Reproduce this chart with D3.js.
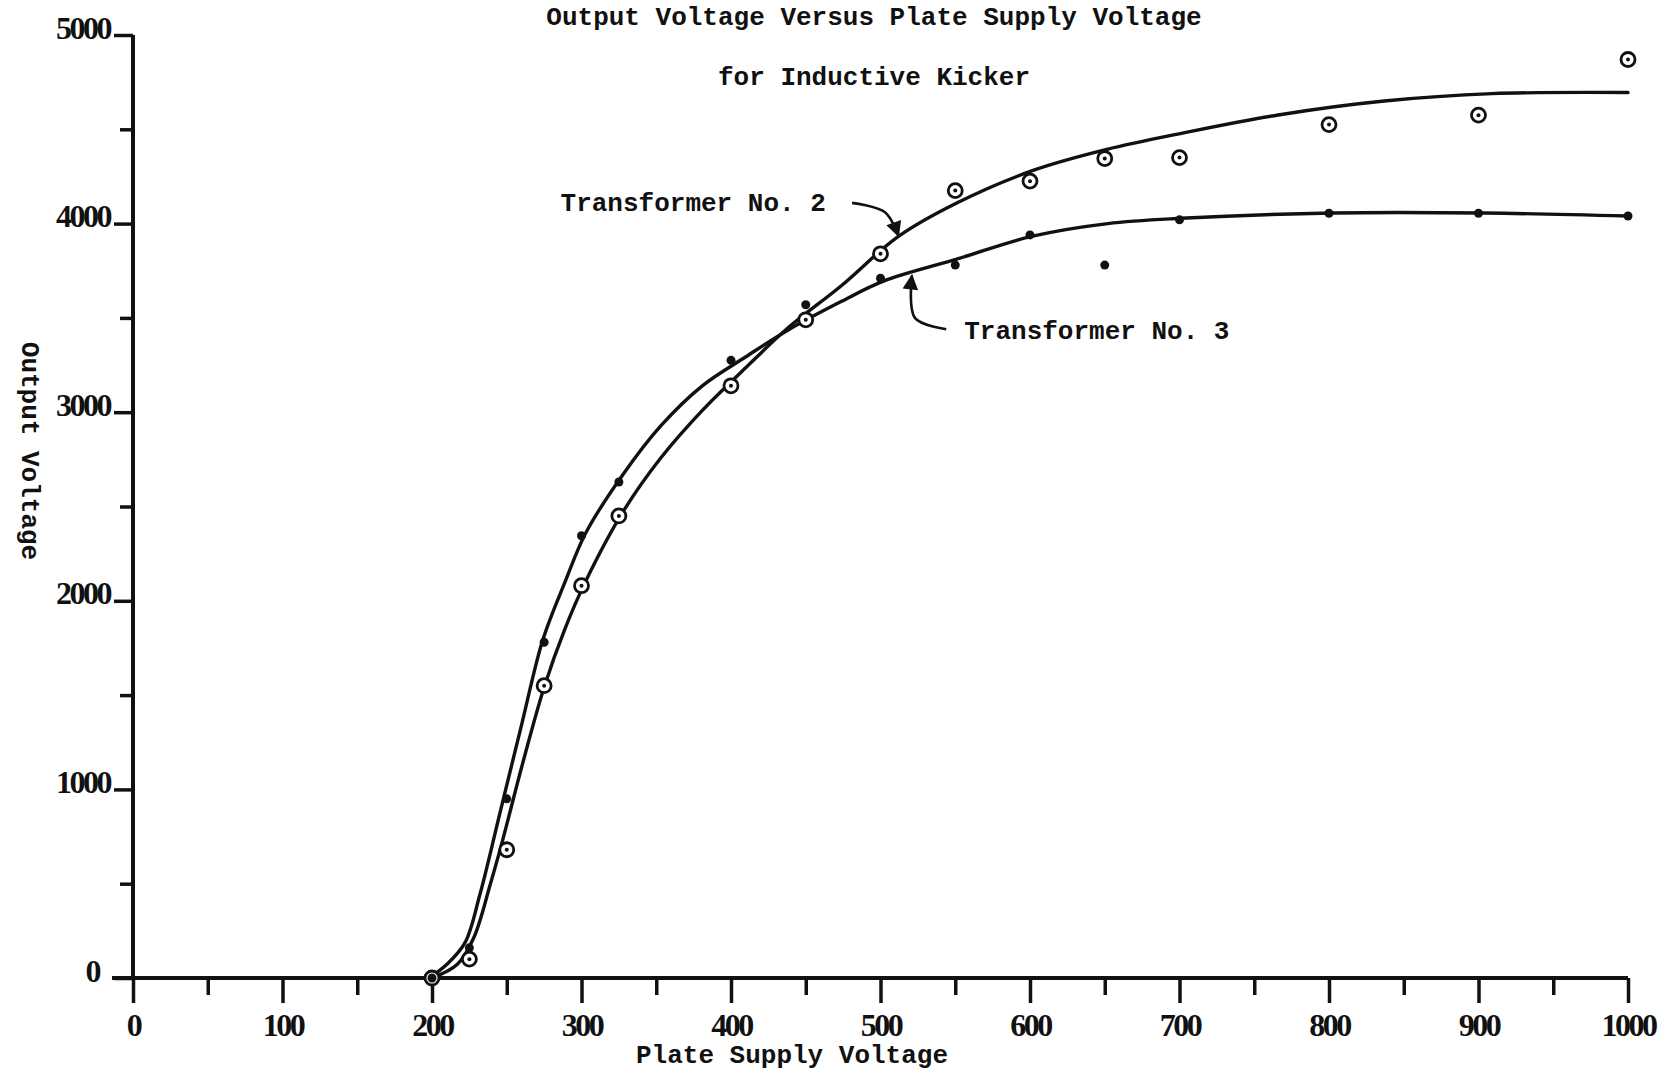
<!DOCTYPE html>
<html>
<head>
<meta charset="utf-8">
<script src="https://cdn.jsdelivr.net/npm/d3@7"></script>
<style>
body { margin: 0; background: #fff; }
.label { font-family: "Liberation Mono", "DejaVu Sans Mono", monospace; font-weight: bold; font-size: 26px; fill: #111; }
.tick text { font-family: "Liberation Serif", serif; font-weight: bold; font-size: 32px; letter-spacing: -2.5px; fill: #111; }
</style>
</head>
<body>
<svg id="chart" width="1671" height="1072"></svg>
<script>
// measured points - Transformer No. 2 (circles) and No. 3 (dots)
var plateVolts2 = [200, 225, 250, 275, 300, 325, 400, 450, 500, 550, 600, 650, 700, 800, 900, 1000];
var outputVolts2 = [0, 100, 680, 1550, 2080, 2450, 3140, 3490, 3840, 4175, 4225, 4345, 4350, 4525, 4575, 4870];
var plateVolts3 = [200, 225, 250, 275, 300, 325, 400, 450, 500, 550, 600, 650, 700, 800, 900, 1000];
var outputVolts3 = [0, 160, 950, 1780, 2345, 2630, 3275, 3570, 3710, 3780, 3940, 3780, 4020, 4055, 4055, 4040];

// the hand drawn smooth curves
var curveX2 = [200, 217, 228, 239, 247, 260, 275, 289, 303, 328, 353, 381, 410, 438, 474, 512, 552, 602, 652, 702, 766, 837, 909, 1000];
var curveY2 = [0, 73, 215, 497, 723, 1119, 1542, 1853, 2107, 2475, 2757, 3011, 3237, 3446, 3672, 3932, 4113, 4282, 4395, 4480, 4576, 4650, 4689, 4695];
var curveX3 = [198, 210, 222, 232, 246, 260, 274, 289, 303, 328, 353, 381, 410, 438, 474, 502, 552, 601, 652, 701, 802, 904, 1000];
var curveY3 = [0, 73, 186, 441, 893, 1345, 1790, 2100, 2362, 2672, 2927, 3141, 3294, 3435, 3588, 3695, 3814, 3932, 4000, 4028, 4056, 4056, 4040];

var xMajor = [0, 100, 200, 300, 400, 500, 600, 700, 800, 900, 1000];
var xMinor = [50, 150, 250, 350, 450, 550, 650, 750, 850, 950];
var yMajor = [0, 1000, 2000, 3000, 4000, 5000];
var yMinor = [500, 1500, 2500, 3500, 4500];

var svg = d3.select("#chart");
svg.append("rect").attr("width", 1671).attr("height", 1072).attr("fill", "#fff");

var x = d3.scaleLinear().domain([0, 1000]).range([133, 1628]);
var y = d3.scaleLinear().domain([0, 5000]).range([978, 35]);

var zip = function(xs, ys){
  return xs.map(function(d, i){ return [d, ys[i]]; });
};

// axes
var xAxis = svg.append("g").attr("transform", "translate(0," + y(0) + ")")
  .call(d3.axisBottom(x).tickValues(xMajor).tickFormat(d3.format("d"))
    .tickSize(25).tickPadding(10).tickSizeOuter(0));
svg.append("g").attr("transform", "translate(0," + y(0) + ")")
  .call(d3.axisBottom(x).tickValues(xMinor).tickSize(17).tickFormat("").tickSizeOuter(0));
var yAxis = svg.append("g").attr("transform", "translate(" + x(0) + ",0)")
  .call(d3.axisLeft(y).tickValues(yMajor).tickFormat(d3.format("d"))
    .tickSize(19).tickPadding(4).tickSizeOuter(0));
svg.append("g").attr("transform", "translate(" + x(0) + ",0)")
  .call(d3.axisLeft(y).tickValues(yMinor).tickSize(13).tickFormat("").tickSizeOuter(0));

svg.selectAll(".domain").remove();
svg.selectAll(".tick line").attr("stroke", "#111").attr("stroke-width", 3.5);
yAxis.selectAll(".tick text").attr("dy", 3);
yAxis.selectAll(".tick text").filter(function(d){ return d === 0; }).attr("x", -34);

svg.append("line")
  .attr("x1", x(0) - 21).attr("x2", x(1000))
  .attr("y1", y(0)).attr("y2", y(0))
  .attr("stroke", "#111").attr("stroke-width", 4);
svg.append("line")
  .attr("x1", x(0)).attr("x2", x(0))
  .attr("y1", y(0)).attr("y2", y(5000))
  .attr("stroke", "#111").attr("stroke-width", 4);

// curves
var line = d3.line()
  .x(function(d){ return x(d[0]); })
  .y(function(d){ return y(d[1]); })
  .curve(d3.curveCatmullRom.alpha(0.5));

svg.append("path").datum(zip(curveX2, curveY2))
  .attr("d", line).attr("fill", "none").attr("stroke", "#111")
  .attr("stroke-width", 3.4).attr("stroke-linecap", "round");
svg.append("path").datum(zip(curveX3, curveY3))
  .attr("d", line).attr("fill", "none").attr("stroke", "#111")
  .attr("stroke-width", 3.4).attr("stroke-linecap", "round");

// points
var pts2 = zip(plateVolts2, outputVolts2);
svg.selectAll("circle.t2")
  .data(pts2).enter().append("circle").attr("class", "t2")
  .attr("cx", function(d){ return x(d[0]); })
  .attr("cy", function(d){ return y(d[1]); })
  .attr("r", 7).attr("fill", "#fff").attr("stroke", "#111").attr("stroke-width", 2.8);
svg.selectAll("circle.t2c")
  .data(pts2).enter().append("circle").attr("class", "t2c")
  .attr("cx", function(d){ return x(d[0]); })
  .attr("cy", function(d){ return y(d[1]); })
  .attr("r", 2).attr("fill", "#111");

svg.selectAll("circle.t3")
  .data(zip(plateVolts3, outputVolts3)).enter().append("circle").attr("class", "t3")
  .attr("cx", function(d){ return x(d[0]); })
  .attr("cy", function(d){ return y(d[1]); })
  .attr("r", 4.5).attr("fill", "#111");

// arrow heads
svg.append("defs").append("marker")
  .attr("id", "head").attr("viewBox", "0 0 10 10")
  .attr("refX", 9).attr("refY", 5)
  .attr("markerWidth", 7).attr("markerHeight", 6)
  .attr("markerUnits", "strokeWidth")
  .attr("orient", "auto")
  .append("path").attr("d", "M0,0 L10,5 L0,10 z").attr("fill", "#111");

var arrow = d3.line()
  .x(function(d){ return x(d[0]); })
  .y(function(d){ return y(d[1]); })
  .curve(d3.curveCatmullRom.alpha(0.5));

svg.append("path").datum([[481, 4110], [503, 4060], [512, 3935]])
  .attr("d", arrow).attr("fill", "none").attr("stroke", "#111")
  .attr("stroke-width", 2.6).attr("marker-end", "url(#head)");
svg.append("path").datum([[544, 3440], [523, 3500], [521, 3725]])
  .attr("d", arrow).attr("fill", "none").attr("stroke", "#111")
  .attr("stroke-width", 2.6).attr("marker-end", "url(#head)");

// texts
svg.append("text").attr("class", "label")
  .attr("x", 874).attr("y", 25).attr("text-anchor", "middle")
  .text("Output Voltage Versus Plate Supply Voltage");
svg.append("text").attr("class", "label")
  .attr("x", 874).attr("y", 85).attr("text-anchor", "middle")
  .text("for Inductive Kicker");
svg.append("text").attr("class", "label")
  .attr("x", x(286)).attr("y", y(4065))
  .text("Transformer No. 2");
svg.append("text").attr("class", "label")
  .attr("x", x(556)).attr("y", y(3390))
  .text("Transformer No. 3");
svg.append("text").attr("class", "label")
  .attr("x", 792).attr("y", 1063).attr("text-anchor", "middle")
  .text("Plate Supply Voltage");
svg.append("text").attr("class", "label")
  .attr("transform", "translate(22,451) rotate(90)").attr("text-anchor", "middle")
  .text("Output Voltage");
</script>
</body>
</html>
